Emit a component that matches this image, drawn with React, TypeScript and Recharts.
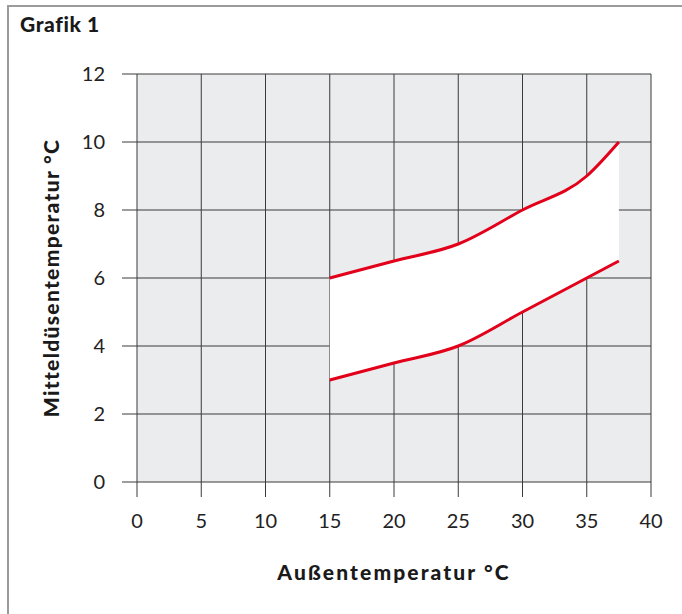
import React from "react";
import { ComposedChart, Area, Line, XAxis, YAxis, CartesianGrid } from "recharts";

const outsideTemp = [15, 20, 25, 30, 35, 37.5];
const lowerNozzle = [3, 3.5, 4, 5, 6, 6.5];
const upperNozzle = [6, 6.5, 7, 8, 9, 10];
const xTicks = [0, 5, 10, 15, 20, 25, 30, 35, 40];
const yTicks = [0, 2, 4, 6, 8, 10, 12];

const data = outsideTemp.map((x, i) => ({
  x,
  low: lowerNozzle[i],
  high: upperNozzle[i],
  band: [lowerNozzle[i], upperNozzle[i]],
}));

const RED = "#e2001a";
const FONT = "Lato, 'Open Sans', sans-serif";

export default function App() {
  return (
    <div style={{ position: "absolute", left: 0, top: 0, width: 682, height: 614, background: "#fff" }}>
      <div
        style={{
          position: "absolute",
          left: 7,
          top: 5,
          width: 680,
          height: 614,
          borderTop: "2px solid #9b9b9b",
          borderLeft: "2px solid #9b9b9b",
        }}
      />
      <div
        style={{
          position: "absolute",
          left: 20,
          top: 11,
          fontFamily: FONT,
          fontWeight: 900,
          fontSize: 21,
          letterSpacing: 0.6,
          color: "#1a1a1a",
        }}
      >
        Grafik 1
      </div>
      <div style={{ position: "absolute", left: 0, top: 0 }}>
        <ComposedChart
          width={682}
          height={614}
          data={data}
          margin={{ top: 74, right: 31, bottom: 0, left: 0 }}
        >
          <CartesianGrid stroke="#3a3a3a" strokeWidth={1} fill="#ebecee" fillOpacity={1} />
          <XAxis
            dataKey="x"
            type="number"
            domain={[0, 40]}
            ticks={xTicks}
            height={132}
            axisLine={false}
            tickLine={{ stroke: "#3a3a3a", strokeWidth: 1 }}
            tickSize={15}
            tickMargin={17}
            tick={{ fontFamily: FONT, fontSize: 20, fill: "#222" }}
            interval={0}
            label={{
              value: "Außentemperatur °C",
              position: "insideBottom",
              offset: 34,
              style: { fontFamily: FONT, fontWeight: 900, fontSize: 21, letterSpacing: 2.1, fill: "#1a1a1a" },
            }}
          />
          <YAxis
            type="number"
            domain={[0, 12]}
            ticks={yTicks}
            width={137}
            axisLine={false}
            tickLine={{ stroke: "#3a3a3a", strokeWidth: 1 }}
            tickSize={15}
            tickMargin={17}
            tick={{ fontFamily: FONT, fontSize: 20, fill: "#222" }}
            interval={0}
            label={{
              value: "Mitteldüsentemperatur °C",
              angle: -90,
              position: "insideLeft",
              offset: 52,
              style: {
                fontFamily: FONT,
                fontWeight: 900,
                fontSize: 21,
                letterSpacing: 1.3,
                fill: "#1a1a1a",
                textAnchor: "middle",
              },
            }}
          />
          <Area
            dataKey="band"
            type="monotone"
            fill="#ffffff"
            fillOpacity={1}
            stroke="none"
            isAnimationActive={false}
          />
          <Line dataKey="high" type="monotone" stroke={RED} strokeWidth={3} dot={false} isAnimationActive={false} />
          <Line dataKey="low" type="monotone" stroke={RED} strokeWidth={3} dot={false} isAnimationActive={false} />
        </ComposedChart>
      </div>
    </div>
  );
}
